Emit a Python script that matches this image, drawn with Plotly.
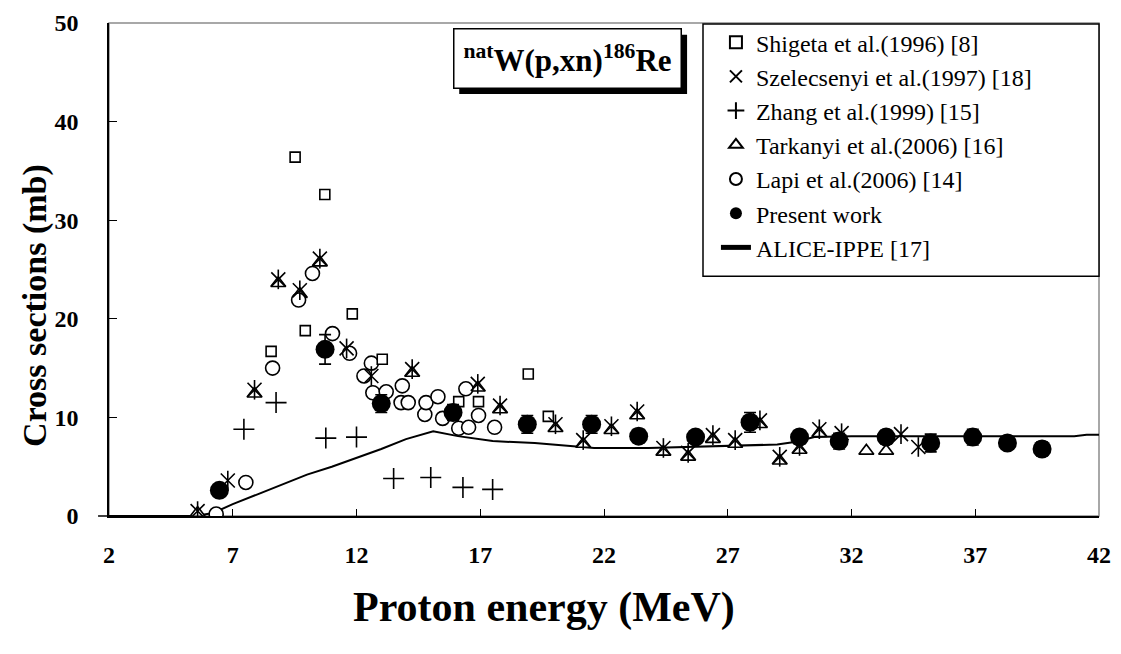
import plotly.graph_objects as go

# ---- data ----
shigeta_x = [8.55, 9.52, 9.93, 10.72, 11.83, 13.04, 16.13, 16.93, 18.94, 19.75]
shigeta_y = [16.7, 36.4, 18.8, 32.6, 20.5, 15.9, 11.6, 11.6, 14.4, 10.1]

szel_x = [5.58, 6.8, 7.88, 8.84, 9.71, 10.52, 11.6, 12.6, 14.25, 16.9, 17.8, 20.04, 21.16, 22.3,
          23.34, 24.4, 25.4, 26.4, 27.3, 28.3, 29.1, 29.9, 30.7, 31.6, 34.0, 34.7]
szel_y = [0.5, 3.6, 12.8, 24.0, 22.9, 26.1, 17.0, 14.2, 14.9, 13.4, 11.2, 9.3, 7.7, 9.1,
          10.6, 6.9, 6.4, 8.2, 7.7, 9.7, 6.0, 7.1, 8.8, 8.4, 8.3, 7.0]

zhang_x = [7.45, 8.75, 10.76, 12.0, 13.5, 15.0, 16.3, 17.5]
zhang_y = [8.8, 11.5, 7.9, 8.0, 3.8, 3.9, 2.9, 2.7]

tark_x = [5.58, 7.88, 8.84, 9.71, 10.52, 14.25, 16.9, 17.8, 20.04, 21.16, 22.3, 23.34, 24.4,
          25.4, 26.4, 27.3, 28.3, 29.1, 29.9, 30.7, 32.6, 33.4]
tark_y = [0.3, 12.4, 23.6, 22.5, 25.7, 14.5, 13.0, 10.8, 8.9, 7.3, 8.7, 10.2, 6.5,
          6.0, 7.8, 7.3, 9.3, 5.6, 6.7, 8.4, 6.6, 6.6]

lapi_x = [6.33, 7.53, 8.61, 9.66, 10.22, 11.03, 11.72, 12.3, 12.6, 12.66, 13.2, 13.8, 13.85,
          14.09, 14.76, 14.81, 15.29, 15.48, 16.13, 16.42, 16.53, 16.93, 17.58]
lapi_y = [0.2, 3.4, 15.0, 21.9, 24.6, 18.5, 16.5, 14.2, 15.5, 12.5, 12.6, 11.5, 13.2,
          11.5, 10.3, 11.5, 12.1, 9.9, 8.9, 12.9, 9.0, 10.2, 9.0]

present_x = [6.46, 10.73, 13.0, 15.9, 18.9, 21.5, 23.4, 25.7, 27.9, 29.9, 31.5, 33.4, 35.2, 36.9, 38.3, 39.7]
present_y = [2.6, 16.9, 11.4, 10.5, 9.3, 9.3, 8.1, 8.0, 9.5, 8.0, 7.6, 8.0, 7.4, 8.0, 7.4, 6.8]
present_err = [0.3, 1.5, 0.9, 0.8, 0.9, 0.9, 0.7, 0.6, 1.0, 0.7, 0.8, 0.7, 0.9, 0.8, 0.6, 0.7]

alice_x = [2, 5.5, 6.2, 7, 8, 9, 10, 11, 12, 13, 14, 15.1, 16.1, 17.5, 19.2, 20.7, 21.6, 23.8,
           27.7, 29.0, 29.7, 30.5, 32, 41, 41.5, 42]
alice_y = [0, 0, 0.3, 1.2, 2.2, 3.2, 4.2, 5.0, 5.9, 6.8, 7.8, 8.6, 8.1, 7.6, 7.4, 7.1, 6.9, 6.9,
           7.2, 7.25, 7.5, 8.0, 8.1, 8.1, 8.25, 8.25]

x_ticks = [2, 7, 12, 17, 22, 27, 32, 37, 42]
y_ticks = [0, 10, 20, 30, 40, 50]

FONT = "Liberation Serif"
BLK = "black"

fig = go.Figure()

fig.add_trace(go.Scatter(x=alice_x, y=alice_y, mode="lines", name="ALICE-IPPE [17]",
                         line=dict(color=BLK, width=2), legendrank=7, legendgroup="g7"))
fig.add_trace(go.Scatter(x=tark_x, y=tark_y, mode="markers", name="Tarkanyi et al.(2006) [16]",
                         marker=dict(symbol="triangle-up", size=13, color="white",
                                     line=dict(color=BLK, width=1.6)),
                         legendrank=4, legendgroup="g4"))
fig.add_trace(go.Scatter(x=lapi_x, y=lapi_y, mode="markers", name="Lapi et al.(2006) [14]",
                         marker=dict(symbol="circle", size=14, color="white",
                                     line=dict(color=BLK, width=1.6)),
                         legendrank=5, legendgroup="g5"))
fig.add_trace(go.Scatter(x=shigeta_x, y=shigeta_y, mode="markers", name="Shigeta et al.(1996) [8]",
                         marker=dict(symbol="square", size=10, color="white",
                                     line=dict(color=BLK, width=1.6)),
                         legendrank=1, legendgroup="g1"))
fig.add_trace(go.Scatter(x=zhang_x, y=zhang_y, mode="markers", name="Zhang et al.(1999) [15]",
                         marker=dict(symbol="cross-thin-open", size=15, color=BLK,
                                     line=dict(color=BLK, width=1.6)),
                         legendrank=3, legendgroup="g3"))
fig.add_trace(go.Scatter(x=szel_x, y=szel_y, mode="markers", name="Szelecsenyi et al.(1997) [18]",
                         marker=dict(symbol="x-thin-open", size=14, color=BLK,
                                     line=dict(color=BLK, width=1.6)),
                         legendrank=2, legendgroup="g2"))
fig.add_trace(go.Scatter(x=szel_x, y=szel_y, mode="markers", showlegend=False,
                         marker=dict(symbol="line-ns-open", size=14, color=BLK,
                                     line=dict(color=BLK, width=1.6)),
                         legendgroup="g2", hoverinfo="skip"))
fig.add_trace(go.Scatter(x=present_x, y=present_y, mode="markers", name="Present work",
                         marker=dict(symbol="circle", size=19, color=BLK),
                         error_y=dict(type="data", array=present_err, color=BLK,
                                      thickness=1.6, width=6),
                         legendrank=6, legendgroup="g6"))

W, H = 1121, 654
# plot area in page pixels (page margin is removed below)
PL, PR, PT, PB = 109, 1104, 10, 516
L, R, T, B = PL, W - PR, PT, H - PB
pw, ph = W - L - R, H - T - B


def px(xp):  # page pixel -> paper x
    return (xp - PL) / pw


def py(yp):  # page pixel -> paper y
    return (PB - yp) / ph


shapes = [
    dict(type="rect", xref="paper", yref="paper", x0=0, x1=1, y0=0, y1=1,
         line=dict(color="#8c8c8c", width=1.5), layer="below"),
    dict(type="rect", xref="paper", yref="paper", x0=px(706), x1=1.0, y0=py(270), y1=py(11),
         line=dict(color=BLK, width=1.5), fillcolor="white", layer="below"),
    dict(type="rect", xref="paper", yref="paper", x0=px(461), x1=px(690), y0=py(83), y1=py(22),
         line=dict(width=0), fillcolor=BLK, layer="above"),
    dict(type="line", xref="paper", yref="paper", x0=px(98), x1=0, y0=0, y1=0,
         line=dict(color=BLK, width=1.5)),
]

fig.update_layout(
    width=W, height=H,
    margin=dict(l=L, r=R, t=T, b=B, pad=0),
    paper_bgcolor="white", plot_bgcolor="white",
    font=dict(family=FONT, color=BLK),
    showlegend=True,
    legend=dict(x=px(719), y=py(7), xanchor="left", yanchor="top",
                bgcolor="rgba(0,0,0,0)", borderwidth=0,
                font=dict(family=FONT, size=24, color=BLK),
                tracegroupgap=0, itemsizing="constant"),
    shapes=shapes,
    annotations=[
        dict(text="<sup>nat</sup>W(p,xn)<sup>186</sup>Re", xref="paper", yref="paper",
             x=px(569.5), y=py(46.5), xanchor="center", yanchor="middle", showarrow=False,
             font=dict(family=FONT, size=31, color=BLK, weight="bold"),
             bgcolor="white", bordercolor=BLK, borderwidth=1.5, borderpad=0,
             width=226, height=58),
        dict(text="Proton energy (MeV)", xref="paper", yref="paper",
             x=px(546), y=py(610), xanchor="center", yanchor="middle", showarrow=False,
             font=dict(family=FONT, size=42, color=BLK, weight="bold")),
        dict(text="Cross sections (mb)", xref="paper", yref="paper", textangle=-90,
             x=px(34), y=py(300), xanchor="center", yanchor="middle", showarrow=False,
             font=dict(family=FONT, size=34, color=BLK, weight="bold")),
    ],
)

fig.update_xaxes(range=[2, 42], tickvals=x_ticks, ticktext=[str(v) for v in x_ticks],
                 showgrid=False, zeroline=False, showline=True, linecolor=BLK, linewidth=1.5,
                 ticks="inside", ticklen=7, tickwidth=1.2, tickcolor=BLK,
                 tickfont=dict(family=FONT, size=24, color=BLK, weight="bold"),
                 ticklabelstandoff=16, ticklabeloverflow="allow")
fig.update_yaxes(range=[0, 50], tickvals=y_ticks, ticktext=[str(v) for v in y_ticks],
                 showgrid=False, zeroline=False, showline=True, linecolor=BLK, linewidth=1.5,
                 ticks="inside", ticklen=8, tickwidth=1.2, tickcolor=BLK,
                 tickfont=dict(family=FONT, size=24, color=BLK, weight="bold"),
                 ticklabelstandoff=24, ticklabeloverflow="allow")

fig.write_html("out.html", config={"displayModeBar": False},
               post_script="document.body.style.margin='0px';")
